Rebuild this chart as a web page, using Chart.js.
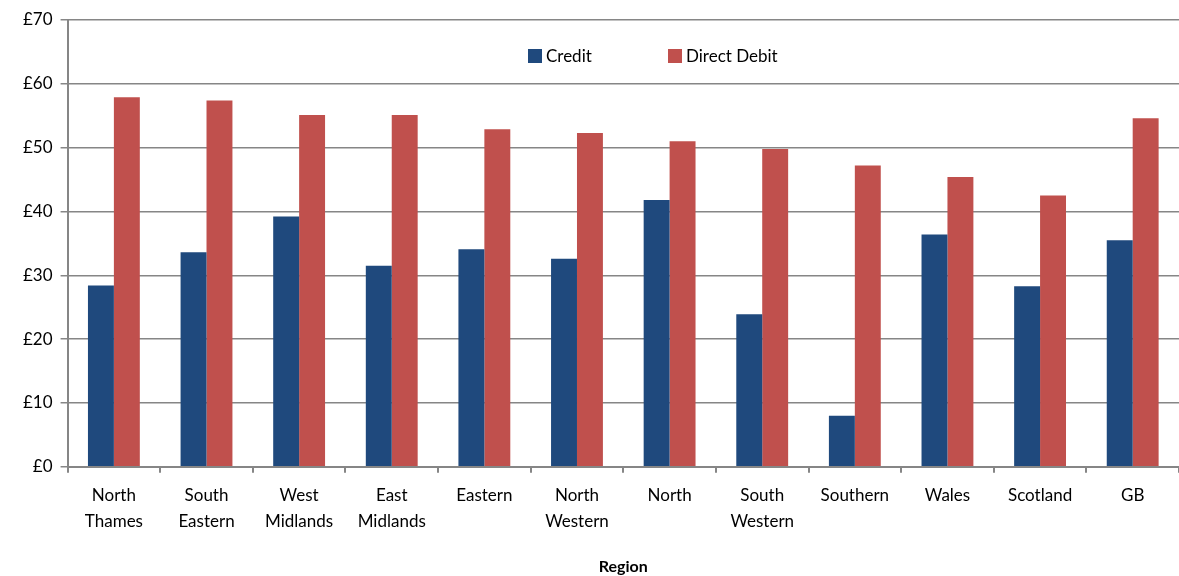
<!DOCTYPE html>
<html>
<head>
<meta charset="utf-8">
<script src="https://cdn.jsdelivr.net/npm/chart.js@4/dist/chart.umd.min.js"></script>
<style>
html,body{margin:0;padding:0;background:#fff;}
#wrap{width:1179px;height:576px;}
</style>
</head>
<body>
<div id="wrap"><canvas id="c" width="1179" height="576"></canvas></div>
<script>
const categories = [["North","Thames"],["South","Eastern"],["West","Midlands"],["East","Midlands"],"Eastern",["North","Western"],"North",["South","Western"],"Southern","Wales","Scotland","GB"];
const creditValues = [28.4, 33.6, 39.2, 31.5, 34.1, 32.6, 41.8, 23.9, 8.0, 36.4, 28.3, 35.5];
const directDebitValues = [57.9, 57.4, 55.1, 55.1, 52.9, 52.3, 51.0, 49.8, 47.2, 45.4, 42.5, 54.6];
const seriesNames = ["Credit", "Direct Debit"];
const seriesColors = ["#1F497D", "#C0504D"];
const axisTitle = "Region";

const FONT = "Lato, 'Open Sans', sans-serif";

const legendPlugin = {
  id: 'insideLegend',
  afterDraw(chart) {
    const ctx = chart.ctx;
    const ds = chart.data.datasets;
    const xs = [528, 668];
    const y = 56;
    ctx.save();
    ctx.font = "17px " + FONT;
    ctx.textBaseline = 'middle';
    ds.forEach((d, i) => {
      ctx.fillStyle = d.backgroundColor;
      ctx.fillRect(xs[i], y - 7, 14, 14);
      ctx.fillStyle = '#000';
      ctx.fillText(d.label, xs[i] + 18, y + 1);
    });
    ctx.restore();
  }
};

new Chart(document.getElementById('c'), {
  type: 'bar',
  data: {
    labels: categories,
    datasets: [
      { label: seriesNames[0], data: creditValues, backgroundColor: seriesColors[0], borderWidth: 0 },
      { label: seriesNames[1], data: directDebitValues, backgroundColor: seriesColors[1], borderWidth: 0 }
    ]
  },
  options: {
    responsive: false,
    animation: false,
    devicePixelRatio: 1,
    layout: { padding: { top: 20, right: 0, left: 15, bottom: 0 } },
    plugins: { legend: { display: false }, tooltip: { enabled: false } },
    datasets: { bar: { barPercentage: 1.0, categoryPercentage: 0.56 } },
    scales: {
      x: {
        grid: { display: true, drawOnChartArea: false, drawTicks: true, tickLength: 6, color: '#868686', lineWidth: 2 },
        border: { color: '#868686', width: 2 },
        ticks: { color: '#000', font: { family: FONT, size: 17, lineHeight: 1.5 }, padding: 10, maxRotation: 0, autoSkip: false },
        title: { display: true, text: axisTitle, color: '#000', font: { family: FONT, size: 16, weight: 'bold' }, padding: { top: 13, bottom: 0 } }
      },
      y: {
        min: 0, max: 70,
        ticks: { stepSize: 10, color: '#000', font: { family: FONT, size: 17 }, padding: 8, callback: v => '£' + v },
        grid: { color: '#868686', lineWidth: 1.5, tickLength: 7 },
        border: { color: '#868686', width: 2 }
      }
    }
  },
  plugins: [legendPlugin]
});
</script>
</body>
</html>
